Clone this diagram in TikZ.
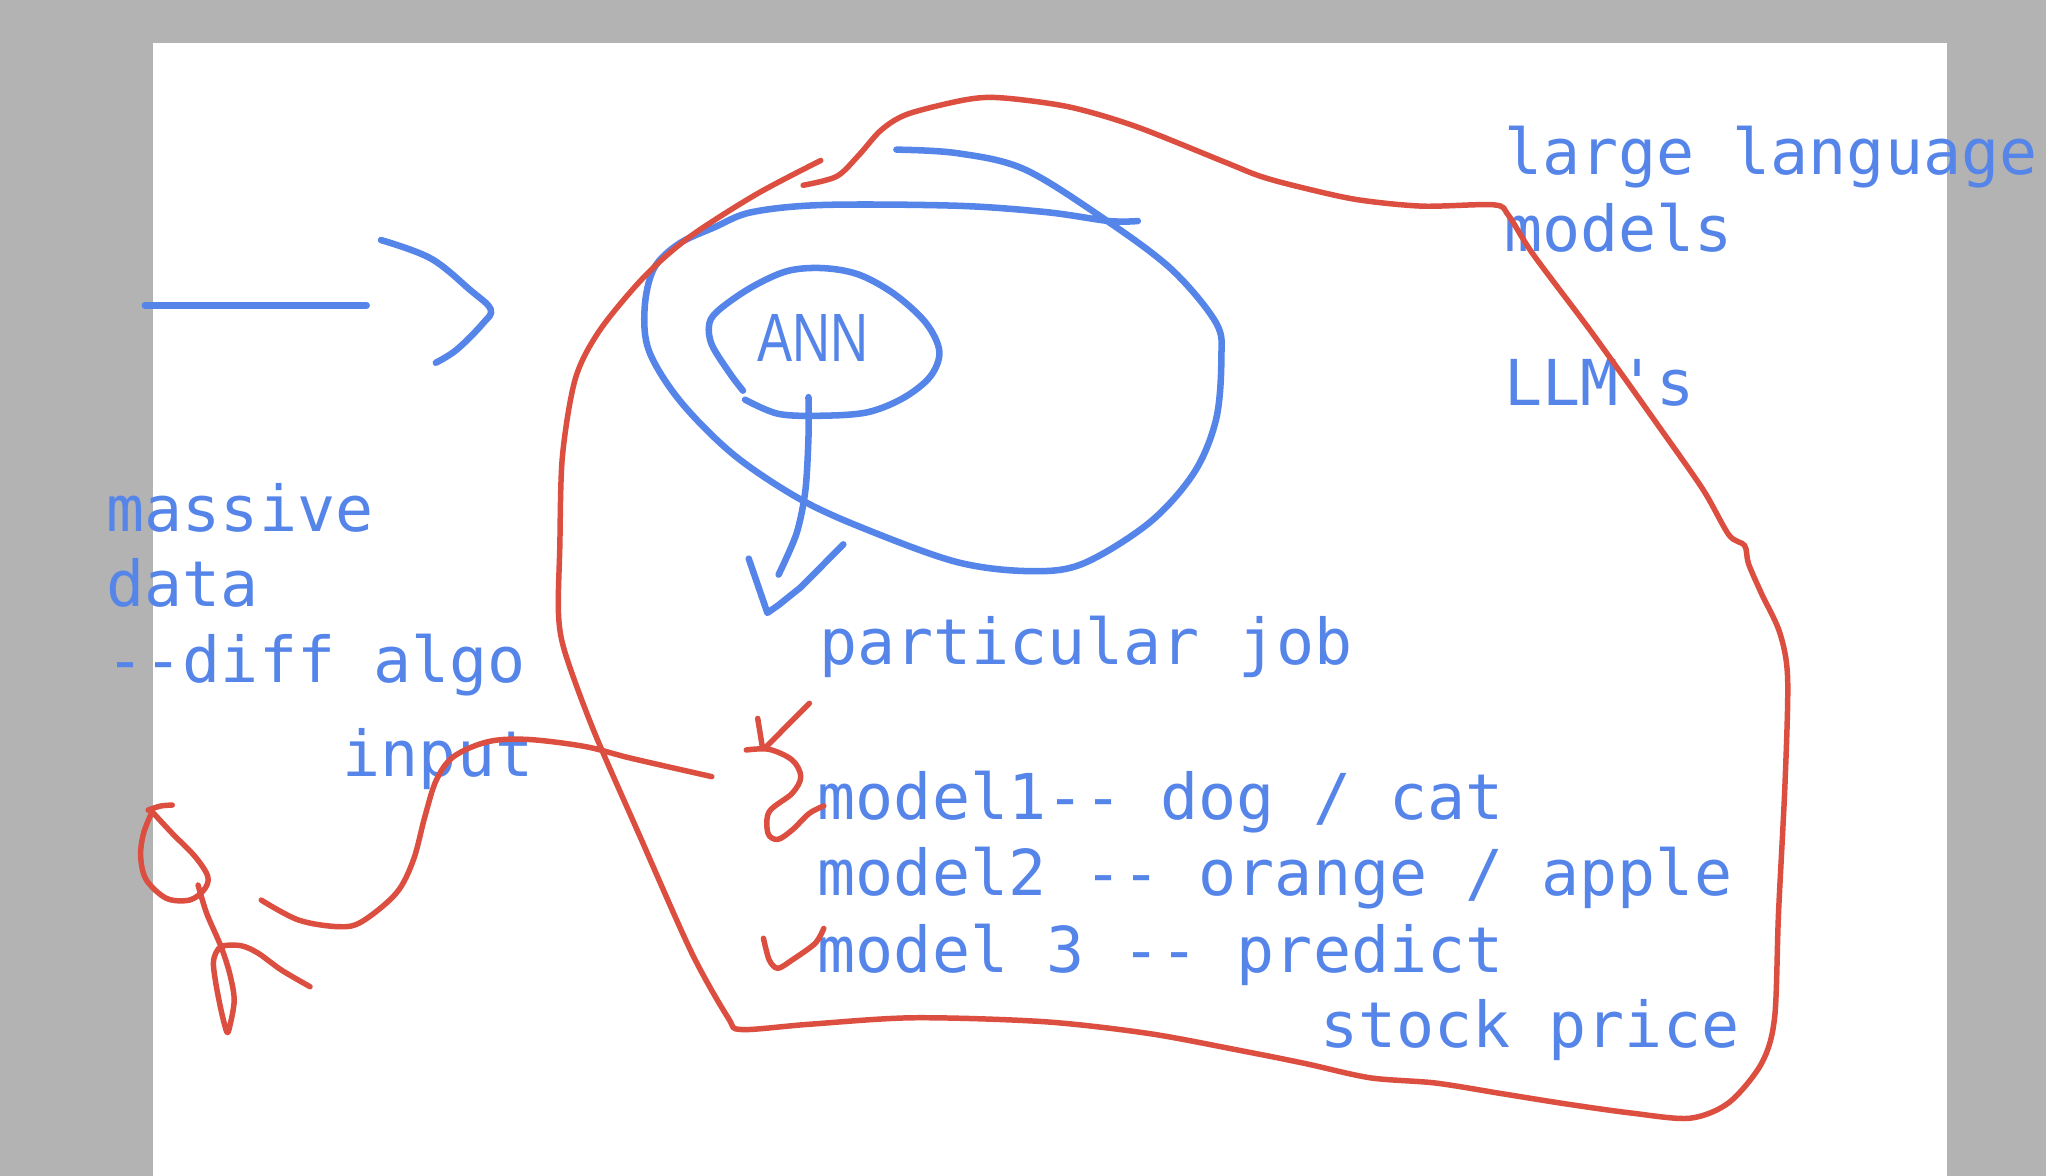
\documentclass[tikz,border=0pt]{standalone}
\usepackage{fontspec}
\setmonofont{DejaVu Sans Mono}
\newfontfamily\annfont{Liberation Sans}
\definecolor{penblue}{HTML}{5685EA}
\definecolor{penred}{HTML}{DC4E40}
\definecolor{bggray}{HTML}{B3B3B3}
\begin{document}
\begin{tikzpicture}[x=0.1mm,y=-0.1mm,
  bluepen/.style={draw=penblue,line width=0.5mm,line cap=round,line join=round},
  redpen/.style={draw=penred,line width=0.42mm,line cap=round,line join=round},
  txt/.style={anchor=base west,inner sep=0pt,text=penblue,font=\ttfamily\fontsize{13.8pt}{16pt}\selectfont}]
\useasboundingbox (0,0) rectangle (1568,901);
\fill[bggray] (0,0) rectangle (1568,901);
\fill[white] (117,33) rectangle (1492,905);

% texts
\node[txt] (llm1) at (1152,134) {large language};
\node[txt] (llm2) at (1152,193) {models};
\node[txt] (llm3) at (1152,311) {LLM's};
\node[txt] (mass) at (81,407) {massive};
\node[txt] (data) at (81,465) {data};
\node[txt] (diff) at (81,523) {--diff algo};
\node[txt] (inp) at (262,595) {input};
\node[txt] (job) at (627,509) {particular job};
\node[txt] (m1) at (626,628) {model1-- dog / cat};
\node[txt] (m2) at (626,686) {model2 -- orange / apple};
\node[txt] (m3) at (626,745) {model 3 -- predict};
\node[txt] (sp) at (1011,803) {stock price};
\node[anchor=base west,inner sep=0pt,text=penblue,font=\annfont\fontsize{14.9pt}{16pt}\selectfont,xscale=0.77] (ann) at (580,277) {ANN};

% blue left arrow
\draw[bluepen] (111,234) -- (281,234);
\draw[bluepen] plot[smooth,tension=0.6] coordinates {(292,184) (330,198) (360,222) (376,237) (370,248) (350,268) (334,278)};

% blue big loop
\draw[bluepen] plot[smooth,tension=0.55] coordinates {(687,114.7) (733.5,117.4) (785,129.7) (846.5,168) (897.8,206.4) (932,247.5) (936,274.8) (932,321.3) (915,362.4) (880.7,400.7) (829.4,432.2) (788.3,437.7) (733.5,430.8) (665.1,406.2) (613.8,382.9) (562.5,348.7) (521.4,307.6) (497.5,269.3) (494,236.5) (501,206) (520,187) (548,174) (576.2,162.6) (630.9,157.1) (733.5,157.7) (802,162.6) (849.9,169.4) (872,169.4)};

% ANN loop
\draw[bluepen] plot[smooth,tension=0.55] coordinates {(571,306.3) (596.7,317.2) (630.9,318.6) (665.1,315.9) (692.5,304.9) (713,288.5) (719.9,269.3) (709.6,247.5) (685.6,225.5) (658.3,210.5) (630.9,205.5) (603.5,207.7) (576.2,220) (552.2,236.5) (543.7,247.5) (545.4,263.9) (559.1,285.8) (569.4,299.4)};

% ANN arrow
\draw[bluepen] plot[smooth,tension=0.5] coordinates {(619.6,304.4) (619.6,335) (617.2,376) (610.4,409) (596.7,440.4)};
\draw[bluepen] (573.8,428.1) -- (588.1,469.7) -- (596.7,463.7) -- (613.8,450) -- (646.3,417.2);

% red big blob
\draw[redpen] plot[smooth,tension=0.5] coordinates {(615.5,142) (641.2,135.2) (658.3,118.8) (675.4,99.6) (696,87.3) (740.4,76.4) (767.8,75) (819.1,81.9) (870.4,96.9) (938.8,124.3) (966.2,135.2) (996.3,143.4) (1040,153) (1090,158) (1145,157) (1156,165) (1175,195) (1220,255) (1270,325) (1305,375) (1325,410) (1337,418) (1340,432) (1350,455) (1364,485) (1370,520) (1368,600) (1363,700) (1360,780) (1350,815) (1325,845) (1295,857) (1250,853) (1200,846) (1150,838) (1100,830) (1050,826) (1000,815) (950,805) (880,792) (800,783) (700,780) (620,785) (568,789) (558,780) (530,730) (490,640) (455,560) (433,500) (428,470) (429,420) (431,350) (441,290) (459.8,252.9) (494,211.8) (528.3,181.7) (579.6,148.9) (629,123)};

% red input curve
\draw[redpen] plot[smooth,tension=0.55] coordinates {(545.5,595.2) (484,581.2) (448.7,572.2) (404.7,566.7) (374,568.4) (347.6,579.9) (334.4,597.8) (325.6,625.9) (316.8,659.1) (303.6,684.6) (277.2,706.4) (259.6,710.2) (228.8,705.1) (200.2,689.8)};

% red left loop figure
\draw[redpen] plot[smooth,tension=0.5] coordinates {(132,617) (123.2,617.7) (113.5,620.8)};
\draw[redpen] plot[smooth,tension=0.55] coordinates {(116.6,622.1) (132,638.7) (149.6,656.6) (159.3,671.9) (156.2,682.1) (145.2,689.8) (127.6,688.5) (112.2,674.4) (107.8,656.6) (110,638.7) (116.6,622.1)};
\draw[redpen] plot[smooth,tension=0.5] coordinates {(151.8,678.3) (158.4,700) (169.4,725.5) (176,746) (179.5,766.4) (176,786.9) (173.8,790.7) (169.4,774.1) (165,751.1) (163.7,735.7) (169.4,725.5) (184.8,724.8) (198,730.6) (215.6,743.4) (237.6,756.2)};

% red arrow and bracket near model1
\draw[redpen] (620.3,539) -- (587.3,572.2);
\draw[redpen] (580.7,550.6) -- (584.2,572.2);
\draw[redpen] plot[smooth,tension=0.55] coordinates {(571.9,574.8) (589.5,574.3) (607.1,582.5) (613.7,595.2) (607.1,608) (589.5,622.1) (588.6,638.7) (596.1,643.3) (607.1,636.1) (620.3,623.3) (631.3,617.7)};

% red check near model 3
\draw[redpen] plot[smooth,tension=0.5] coordinates {(585.1,719.1) (589.5,735.7) (596.1,742.1) (607.1,735.7) (624.7,723) (631.3,711.5)};
\end{tikzpicture}
\end{document}
